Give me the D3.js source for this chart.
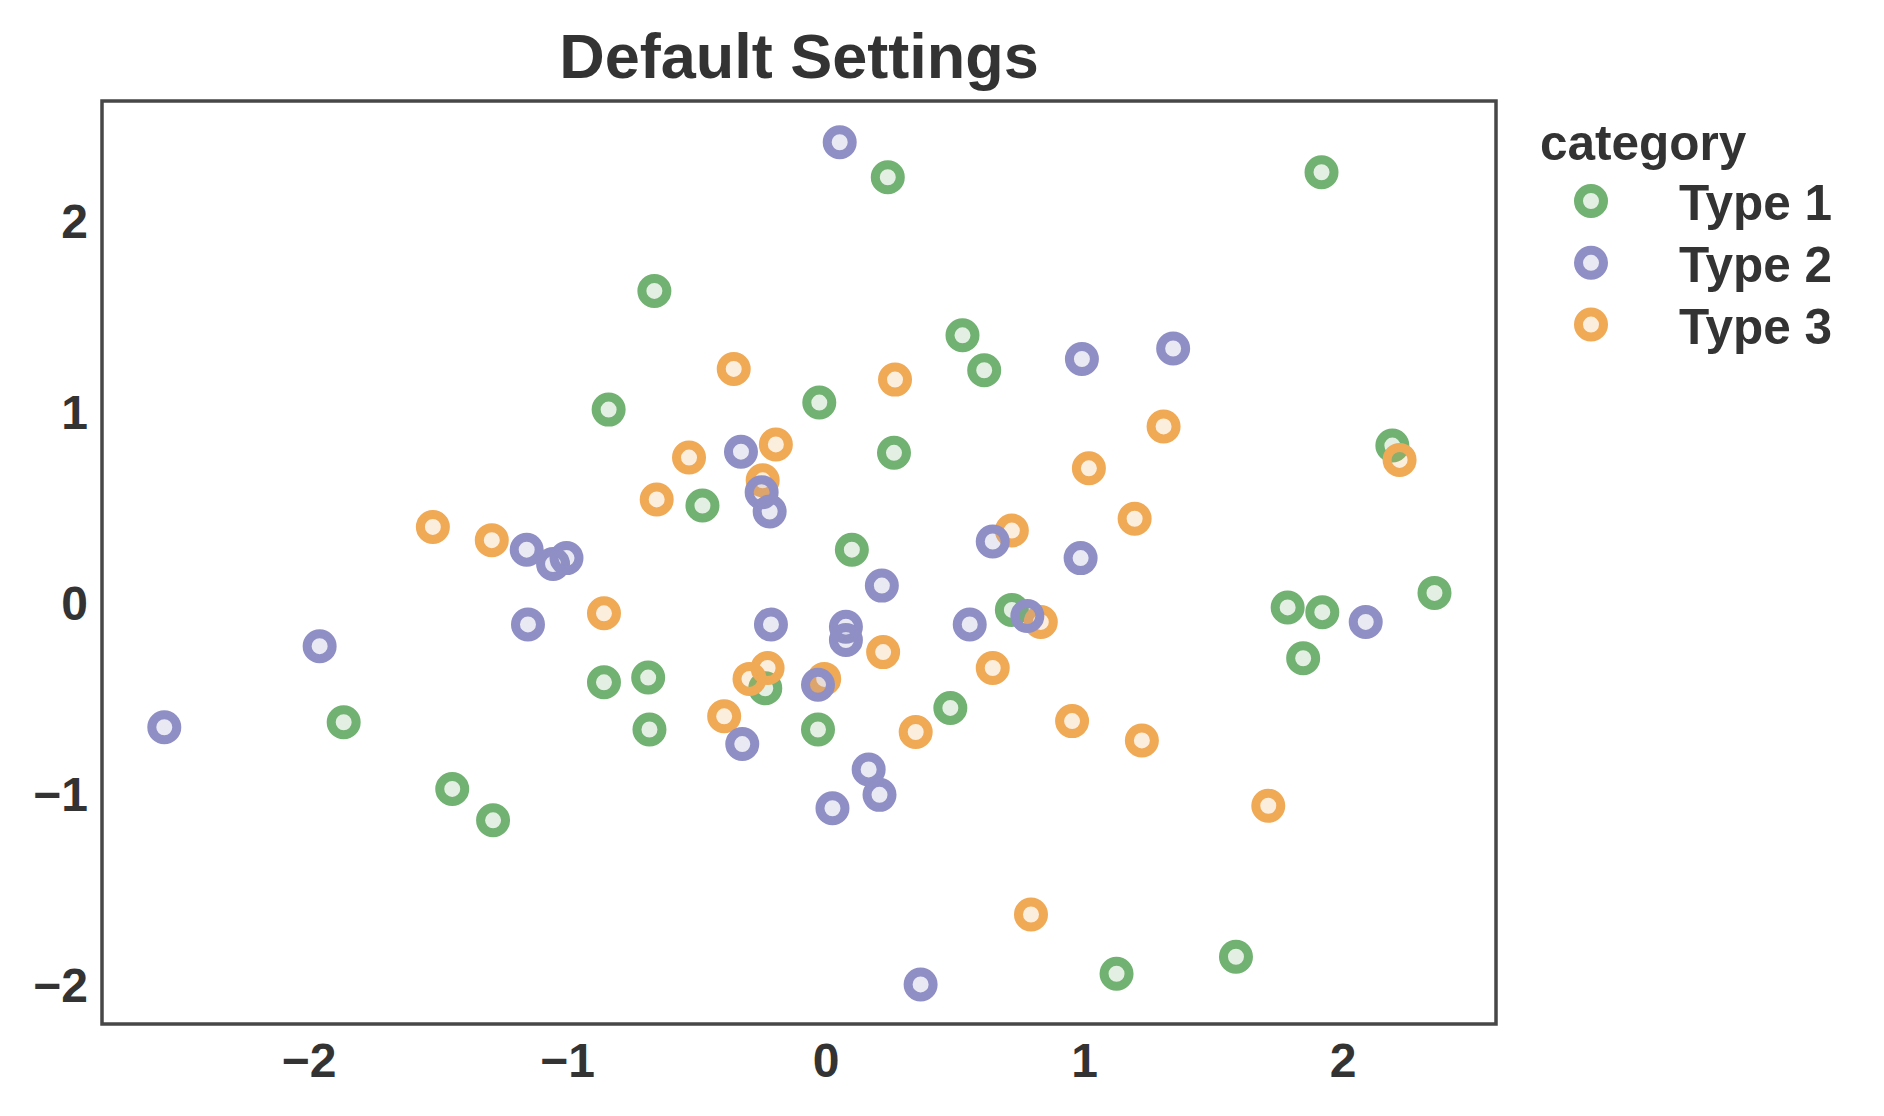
<!DOCTYPE html>
<html>
<head>
<meta charset="utf-8">
<script src="https://cdn.jsdelivr.net/npm/d3@7"></script>
<style>
  body { margin: 0; background: #fff; }
  svg text { font-family: "Liberation Sans", Arial, sans-serif; font-weight: bold; fill: #333; }
</style>
</head>
<body>
<svg id="chart" width="1884" height="1116"></svg>
<script>
// categorias y colores
const categories = ["Type 1", "Type 2", "Type 3"];
const colors = ["#71b171", "#8f8fc5", "#f0a955"];

// valores
const type1X = [0.239, 1.917, -0.664, 0.528, 0.612, -0.841, -0.026, 0.263, 2.191, -0.478, 0.1, 2.354, 1.786, 1.92, 0.719, 1.846, -0.688, -0.859, -0.235, 0.481, -1.866, -0.683, -0.031, -1.446, -1.288, 1.586, 1.124];
const type1Y = [2.226, 2.252, 1.631, 1.399, 1.216, 1.01, 1.047, 0.784, 0.822, 0.508, 0.277, 0.051, -0.025, -0.05, -0.038, -0.291, -0.392, -0.417, -0.448, -0.551, -0.626, -0.664, -0.664, -0.975, -1.139, -1.853, -1.942];

const type2X = [0.053, 1.343, 0.99, -0.329, -0.249, -0.218, -1.158, -1.056, -1.004, 0.645, 0.985, 0.216, -1.153, -0.213, 0.077, 0.077, 0.556, 0.779, 2.088, -1.959, -0.031, -2.56, -0.324, 0.165, 0.207, 0.025, 0.366];
const type2Y = [2.409, 1.33, 1.275, 0.79, 0.577, 0.477, 0.277, 0.202, 0.233, 0.32, 0.233, 0.089, -0.114, -0.114, -0.126, -0.196, -0.114, -0.07, -0.101, -0.228, -0.43, -0.652, -0.74, -0.873, -1.006, -1.076, -1.998];

const type3X = [-0.357, 0.267, -0.194, -0.53, 1.306, -0.245, 1.017, 2.219, -0.655, 1.194, 0.719, -1.521, -1.293, -0.859, 0.831, 0.221, -0.226, -0.296, -0.007, 0.645, -0.394, 0.347, 0.952, 1.222, 1.711, 0.793];
const type3Y = [1.223, 1.167, 0.828, 0.759, 0.922, 0.64, 0.703, 0.747, 0.54, 0.439, 0.377, 0.396, 0.327, -0.056, -0.101, -0.259, -0.342, -0.399, -0.399, -0.342, -0.595, -0.677, -0.62, -0.721, -1.063, -1.632];

const xTicks = [-2, -1, 0, 1, 2];
const yTicks = [-2, -1, 0, 1, 2];

const margin = {left: 102, right: 1496, top: 101, bottom: 1024};

const x = d3.scaleLinear().domain([-2.801, 2.592]).range([margin.left, margin.right]);
const y = d3.scaleLinear().domain([-2.205, 2.625]).range([margin.bottom, margin.top]);

const svg = d3.select("#chart");

// puntos, orden de dibujo: verde, naranja, morado
const series = [
    {cat: 0, xs: type1X, ys: type1Y},
    {cat: 2, xs: type3X, ys: type3Y},
    {cat: 1, xs: type2X, ys: type2Y}
];
const points = [];
series.forEach(s => s.xs.forEach((v, i) => points.push({x: v, y: s.ys[i], cat: s.cat})));

svg.append("g")
    .selectAll("circle")
    .data(points)
    .join("circle")
    .attr("cx", d => x(d.x))
    .attr("cy", d => y(d.y))
    .attr("r", 12.5)
    .attr("fill", d => colors[d.cat])
    .attr("fill-opacity", 0.2)
    .attr("stroke", d => colors[d.cat])
    .attr("stroke-width", 9);

// marco
svg.append("rect")
    .attr("x", margin.left)
    .attr("y", margin.top)
    .attr("width", margin.right - margin.left)
    .attr("height", margin.bottom - margin.top)
    .attr("fill", "none")
    .attr("stroke", "#474747")
    .attr("stroke-width", 3.5);

// ejes sin marcas
const fmt = d3.format("d");
svg.append("g")
    .selectAll("text")
    .data(xTicks)
    .join("text")
    .attr("x", d => x(d))
    .attr("y", 1077)
    .attr("text-anchor", "middle")
    .style("font-size", "48px")
    .text(d => fmt(d));

svg.append("g")
    .selectAll("text")
    .data(yTicks)
    .join("text")
    .attr("x", 88)
    .attr("y", d => y(d) + 17.5)
    .attr("text-anchor", "end")
    .style("font-size", "48px")
    .text(d => fmt(d));

// titulo
svg.append("text")
    .attr("x", (margin.left + margin.right) / 2)
    .attr("y", 78)
    .attr("text-anchor", "middle")
    .style("font-size", "63px")
    .text("Default Settings");

// leyenda
const legend = svg.append("g");
legend.append("text")
    .attr("x", 1540)
    .attr("y", 160)
    .style("font-size", "49.5px")
    .text("category");

const item = legend.selectAll("g.item")
    .data(categories)
    .join("g")
    .attr("class", "item")
    .attr("transform", (d, i) => `translate(0,${201 + i * 61.8})`);

item.append("circle")
    .attr("cx", 1591)
    .attr("cy", 0)
    .attr("r", 12.5)
    .attr("fill", (d, i) => colors[i])
    .attr("fill-opacity", 0.2)
    .attr("stroke", (d, i) => colors[i])
    .attr("stroke-width", 9);

item.append("text")
    .attr("x", 1679)
    .attr("y", 19)
    .style("font-size", "49.5px")
    .text(d => d);
</script>
</body>
</html>
